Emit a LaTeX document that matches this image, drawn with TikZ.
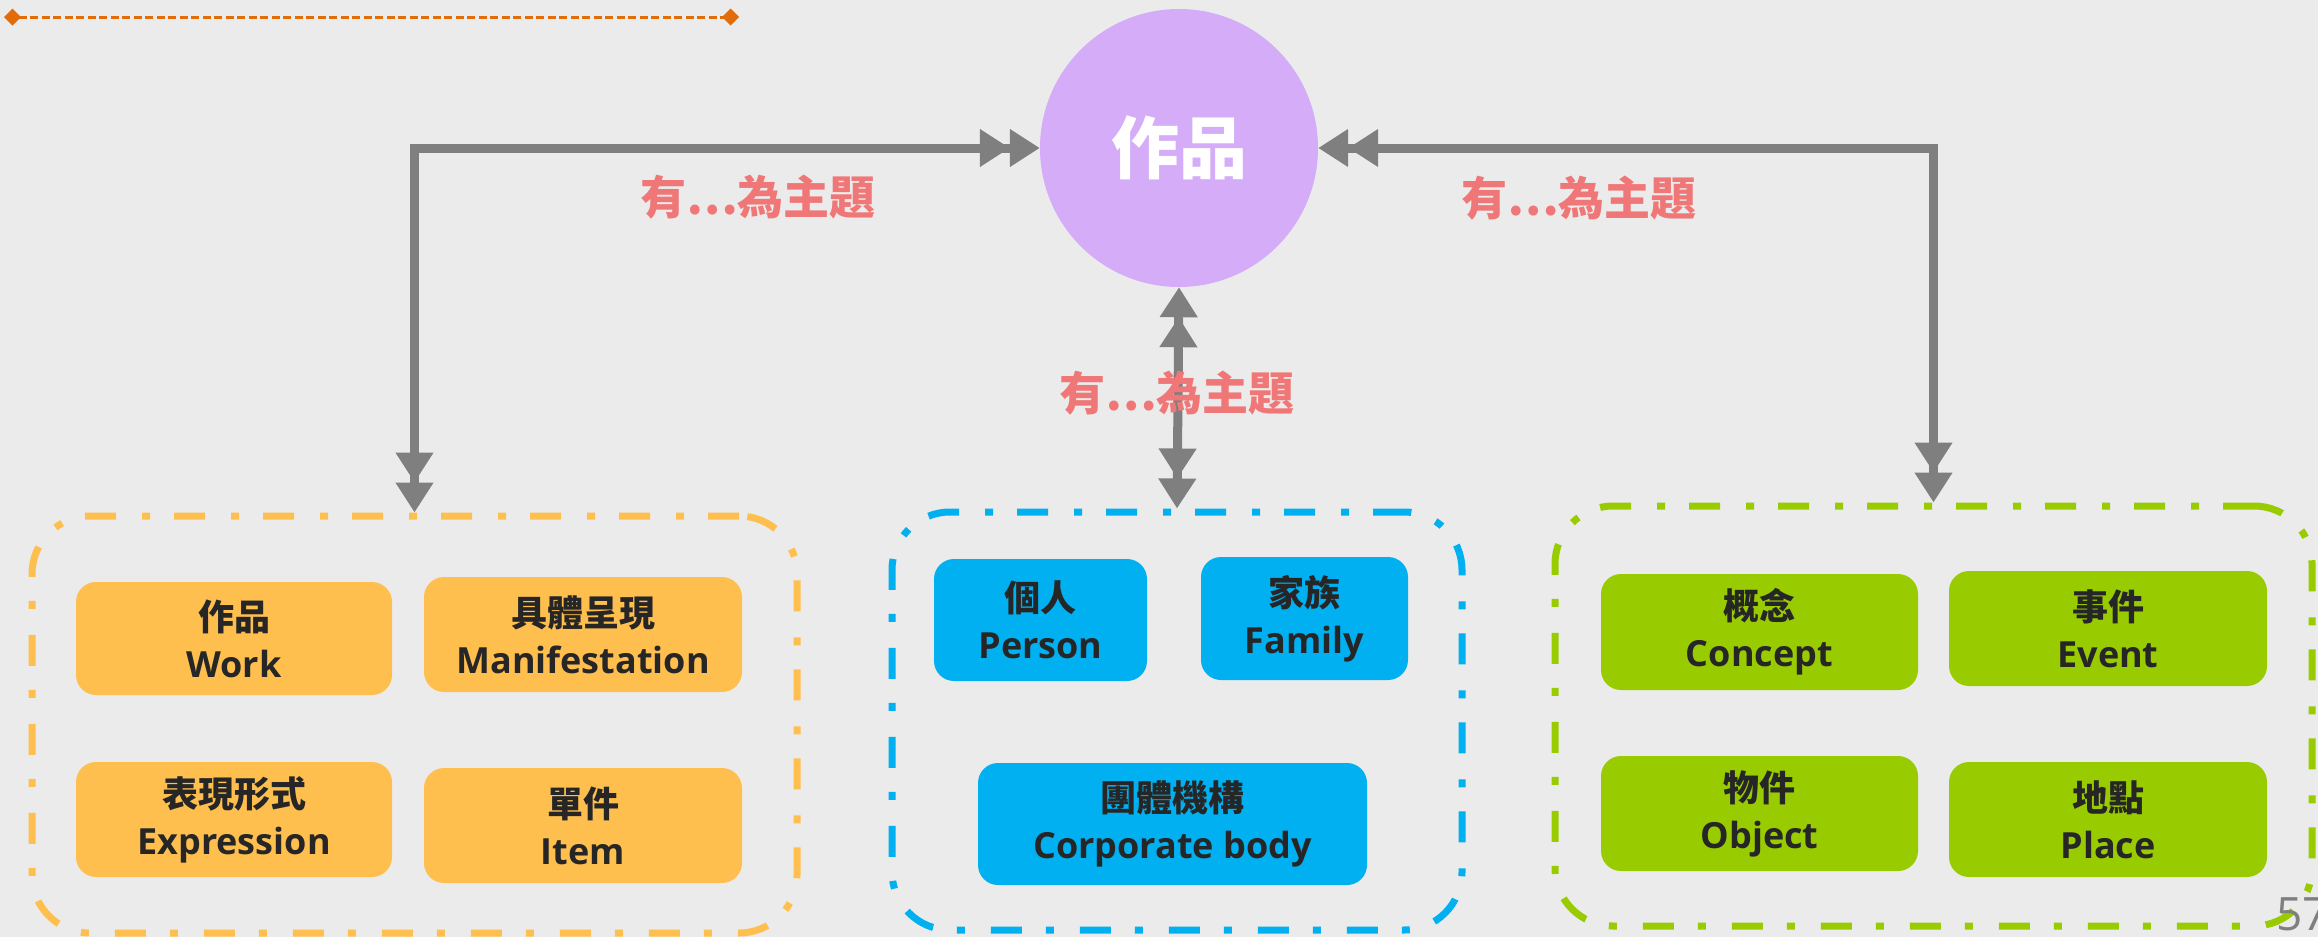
\documentclass[tikz,border=0pt]{standalone}
\usepackage{fontspec}
\usetikzlibrary{arrows.meta}
\newfontfamily\cjk{Noto Sans CJK TC}
\newfontfamily\lat{Open Sans}
\definecolor{bgC}{HTML}{EBEBEB}
\definecolor{orangeC}{HTML}{FFBF4F}
\definecolor{blueC}{HTML}{00B0F0}
\definecolor{greenC}{HTML}{99CC00}
\definecolor{circC}{HTML}{D4ACF8}
\definecolor{arrowC}{HTML}{7F7F7F}
\definecolor{labelC}{HTML}{F07777}
\definecolor{lineC}{HTML}{E36C0A}
\definecolor{txtC}{HTML}{262626}
\newcommand\twolines[2]{{\cjk\bfseries\fontsize{36}{48}\selectfont #1}\\{\lat\bfseries\fontsize{36}{48}\selectfont #2}}
\tikzset{
  dtip/.tip={Triangle[length=30pt,width=36pt,sep=0pt]},
  conn/.style={draw=arrowC, line width=9pt, {dtip[]dtip[]}-{dtip[]dtip[]}},
  grp/.style={rectangle, rounded corners=58pt, line width=7pt, inner sep=0pt,
    dash pattern=on 31pt off 24pt on 8pt off 26pt},
  ebox/.style={rectangle, rounded corners=20pt, inner sep=0pt, align=center, text=txtC,
    font=\fontsize{36}{47}\selectfont},
  subj/.style={text=labelC, font=\cjk\bfseries\fontsize{46}{50}\selectfont, inner sep=0pt},
  circ/.style={circle, fill=circC, minimum size=278pt, inner sep=0pt, text=white,
    font=\cjk\bfseries\fontsize{68}{70}\selectfont},
  topline/.style={draw=lineC, line width=3pt, dash pattern=on 8pt off 3.5pt,
    {Diamond[length=17pt,width=17pt]}-{Diamond[length=17pt,width=17pt]}}
}
\begin{document}
\begin{tikzpicture}[x=1pt,y=-1pt]
\fill[bgC] (0,0) rectangle (2318,937);
\useasboundingbox (0,0) rectangle (2318,937);

% top decorative line
\coordinate (l1) at (4,17);
\coordinate (l2) at (739,17);
\draw[topline] (l1) -- (l2);

% central node
\node[circ] (work) at (1179,148) {作品};

% groups
\node[grp, draw=orangeC, minimum width=765pt, minimum height=417pt] (gA) at (414.5,724.5) {};
\node[grp, draw=blueC, minimum width=570pt, minimum height=418pt] (gB) at (1177,721) {};
\node[grp, draw=greenC, minimum width=757pt, minimum height=420pt] (gC) at (1933.5,716) {};

% group 1 entities
\node[ebox, fill=orangeC, minimum width=316pt, minimum height=113pt] (wk) at (234,638.5) {\twolines{作品}{Work}};
\node[ebox, fill=orangeC, minimum width=318pt, minimum height=115pt] (mf) at (583,634.5) {\twolines{具體呈現}{Manifestation}};
\node[ebox, fill=orangeC, minimum width=316pt, minimum height=115pt] (ex) at (234,819.5) {\twolines{表現形式}{Expression}};
\node[ebox, fill=orangeC, minimum width=318pt, minimum height=115pt] (it) at (583,825.5) {\twolines{單件}{Item}};

% group 2 entities
\node[ebox, fill=blueC, minimum width=213pt, minimum height=122pt] (ps) at (1040.5,620) {\twolines{個人}{Person}};
\node[ebox, fill=blueC, minimum width=207pt, minimum height=123pt] (fm) at (1304.5,618.5) {\twolines{家族}{Family}};
\node[ebox, fill=blueC, minimum width=389pt, minimum height=122pt] (cb) at (1172.5,824) {\twolines{團體機構}{Corporate body}};

% group 3 entities
\node[ebox, fill=greenC, minimum width=317pt, minimum height=116pt] (cp) at (1759.5,632) {\twolines{概念}{Concept}};
\node[ebox, fill=greenC, minimum width=318pt, minimum height=115pt] (ev) at (2108,628.5) {\twolines{事件}{Event}};
\node[ebox, fill=greenC, minimum width=317pt, minimum height=115pt] (ob) at (1759.5,813.5) {\twolines{物件}{Object}};
\node[ebox, fill=greenC, minimum width=318pt, minimum height=115pt] (pl) at (2108,819.5) {\twolines{地點}{Place}};

% connectors
\draw[conn] (gA.north) |- (work.west);
\draw[conn] (gB.north) -- (work.south);
\draw[conn] (gC.north) |- (work.east);

% labels
\node[subj] (s1) at (758,197) {有…為主題};
\node[subj] (s2) at (1579,198) {有…為主題};
\node[subj] (s3) at (1177,393) {有…為主題};

% page number
\node[anchor=base west, inner sep=0pt, text=arrowC, font=\lat\fontsize{46}{46}\selectfont] (pg) at (2276,930) {57};
\end{tikzpicture}
\end{document}
